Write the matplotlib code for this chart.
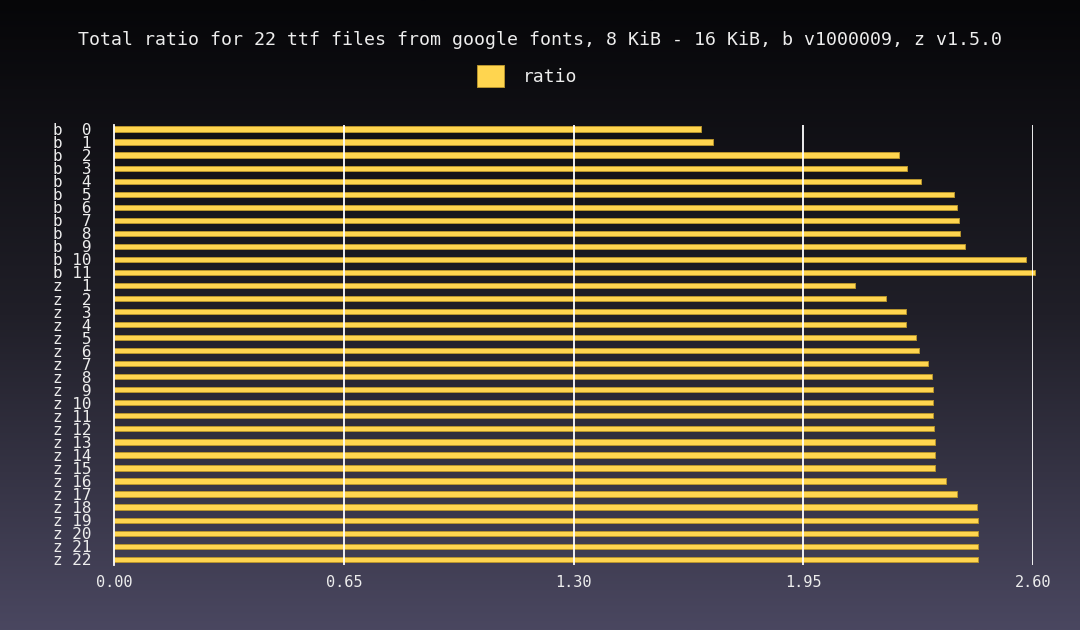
import matplotlib
matplotlib.use('Agg')
import matplotlib.pyplot as plt
import matplotlib.colors as mcolors
import matplotlib.patches as mpatches
import numpy as np

# ── Dados ────────────────────────────────────────────────────────────────────
B_IDS = list(range(0, 12))
B_RATIO = [1.660, 1.695, 2.221, 2.242, 2.283, 2.377, 2.386, 2.390, 2.393,
           2.407, 2.580, 2.605]
Z_IDS = list(range(1, 23))
Z_RATIO = [2.096, 2.185, 2.239, 2.240, 2.269, 2.277, 2.304, 2.313, 2.318,
           2.318, 2.318, 2.320, 2.321, 2.321, 2.321, 2.353, 2.385, 2.441,
           2.444, 2.444, 2.444, 2.444]
X_TICKS = [0.00, 0.65, 1.30, 1.95, 2.60]
TITLE = "Total ratio for 22 ttf files from google fonts, 8 KiB - 16 KiB, b v1000009, z v1.5.0"

YELLOW = "#FFD54F"
EDGE = "#B8952E"
TXT = "#EDEDED"
MONO = "DejaVu Sans Mono"

labels = [f"b {i:>2}" for i in B_IDS] + [f"z {i:>2}" for i in Z_IDS]
values = B_RATIO + Z_RATIO
ypos = np.arange(len(values))

fig = plt.figure(figsize=(10.8, 6.3), dpi=100)

# fundo em degradê vertical
bg = fig.add_axes([0, 0, 1, 1], zorder=-10)
cmap_bg = mcolors.LinearSegmentedColormap.from_list(
    'bg', [(0.0, '#060608'), (0.5, '#201f28'), (1.0, '#4a4760')])
bg.imshow(np.linspace(0, 1, 256).reshape(-1, 1), aspect='auto', cmap=cmap_bg,
          extent=[0, 1, 0, 1], origin='upper')
bg.set_axis_off()

ax = fig.add_axes([0.1056, 0.103, 0.851, 0.6984])
ax.patch.set_alpha(0)

ax.barh(ypos, values, height=0.4, color=YELLOW, edgecolor=EDGE,
        linewidth=0.7, zorder=3, clip_on=False)

ax.set_xlim(0, 2.6)
ax.set_ylim(len(values) - 1 + 0.45, -0.3)
ax.set_xticks(X_TICKS)
ax.set_xticklabels([f"{t:.2f}" for t in X_TICKS], fontsize=11, color=TXT,
                   fontfamily=MONO)
ax.set_yticks(ypos)
ax.set_yticklabels(labels, fontsize=11.5, color=TXT, fontfamily=MONO)
ax.tick_params(axis='both', length=0)
ax.tick_params(axis='y', pad=16)
ax.tick_params(axis='x', pad=7)

# grade por cima das barras, como no original
for x in X_TICKS[1:]:
    ax.axvline(x, color='white', linewidth=1.3, zorder=4)
for s in ['top', 'right', 'bottom']:
    ax.spines[s].set_visible(False)
ax.spines['left'].set_color('white')
ax.spines['left'].set_linewidth(1.3)
ax.spines['left'].set_zorder(5)

fig.text(0.5, 1 - 40 / 630, TITLE, ha='center', va='center', fontsize=13.15,
         color=TXT, fontfamily=MONO)

patch = mpatches.Patch(facecolor=YELLOW, edgecolor=EDGE, linewidth=0.7, label='ratio')
leg = fig.legend(handles=[patch], loc='center', bbox_to_anchor=(527 / 1080, 1 - 76 / 630),
                 frameon=False, prop={'family': MONO, 'size': 13},
                 handlelength=1.5, handleheight=1.5, handletextpad=1.05)
for t in leg.get_texts():
    t.set_color(TXT)

fig.savefig('out.png', dpi=100)
